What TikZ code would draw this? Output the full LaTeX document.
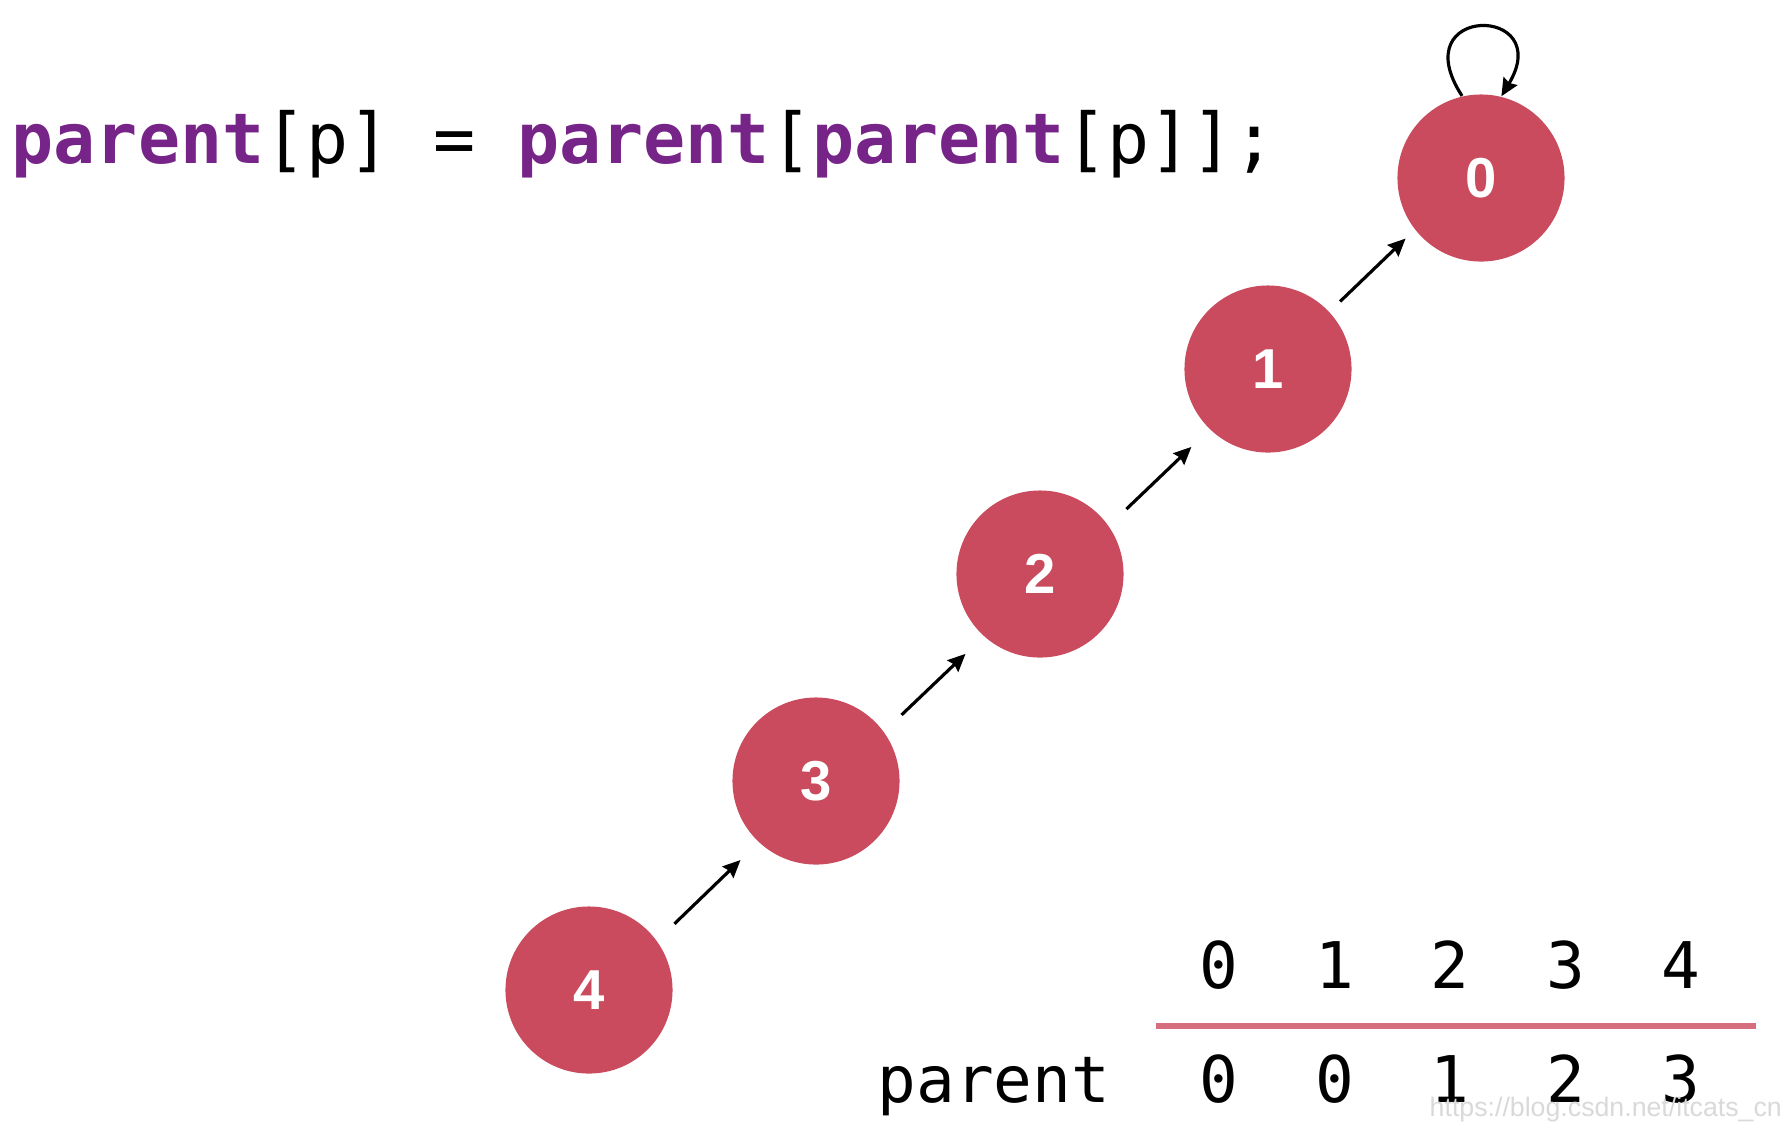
\documentclass[tikz,border=0pt]{standalone}
\usepackage{fontspec}
\setmainfont{Liberation Sans}
\setmonofont{DejaVu Sans Mono}
\usetikzlibrary{arrows.meta}
\definecolor{nodered}{RGB}{201, 75, 93}
\definecolor{codepurple}{RGB}{118, 36, 135}
\definecolor{rulered}{RGB}{214, 110, 125}
\newcommand{\kw}[1]{\textcolor{codepurple}{\bfseries #1}}

\begin{document}
\begin{tikzpicture}[x=0.01cm, y=-0.01cm,
    uf/.style={circle, fill=nodered, minimum size=1.67cm, inner sep=0pt, text=white, font=\fontsize{16}{16}\selectfont\bfseries},
    ptr/.style={line width=0.9pt, -{Stealth[length=5pt, width=4.5pt, inset=0.6pt]}, shorten <=0.24cm, shorten >=0.25cm},
    cell/.style={anchor=base, inner sep=0pt, font=\ttfamily\fontsize{18.3}{18.3}\selectfont}]
    \useasboundingbox (0,0) rectangle (1790,1132);

    % the line of code
    \node[anchor=base west, inner sep=0pt, font=\ttfamily\fontsize{19.9}{19.9}\selectfont] (code) at (11,163) {\kw{parent}[p] = \kw{parent}[\kw{parent}[p]];};

    % the chain after path compression
    \node[uf] (n0) at (1481,178) {0};
    \node[uf] (n1) at (1268,369) {1};
    \node[uf] (n2) at (1040,574) {2};
    \node[uf] (n3) at (816,781) {3};
    \node[uf] (n4) at (589,990) {4};

    \draw[ptr] (n4.36) -- (n3.227);
    \draw[ptr] (n3.36) -- (n2.228);
    \draw[ptr] (n2.35) -- (n1.226);
    \draw[ptr, shorten <=0.145cm, shorten >=0.125cm] (n1.43) -- (n0.218);
    \draw[ptr, shorten <=0pt, shorten >=0pt] (n0.103) .. controls +(-60,-92) and +(55,-92) .. (n0.76);

    % the parent array
    \foreach \i/\x in {0/1219, 1/1335, 2/1450, 3/1566, 4/1681}
        \node[cell] (idx\i) at (\x,988) {\i};
    \draw[rulered, line width=1.7pt] (1156,1026) -- (1756,1026);
    \node[cell] (lbl) at (994,1102) {parent};
    \foreach \i/\x/\v in {0/1219/0, 1/1335/0, 2/1450/1, 3/1566/2, 4/1681/3}
        \node[cell] (par\i) at (\x,1102) {\v};

    \node[anchor=base west, inner sep=0pt, text=black!15, font=\fontsize{7.6}{7.6}\selectfont] (mark) at (1429,1116) {https://blog.csdn.net/itcats\_cn};
\end{tikzpicture}
\end{document}
